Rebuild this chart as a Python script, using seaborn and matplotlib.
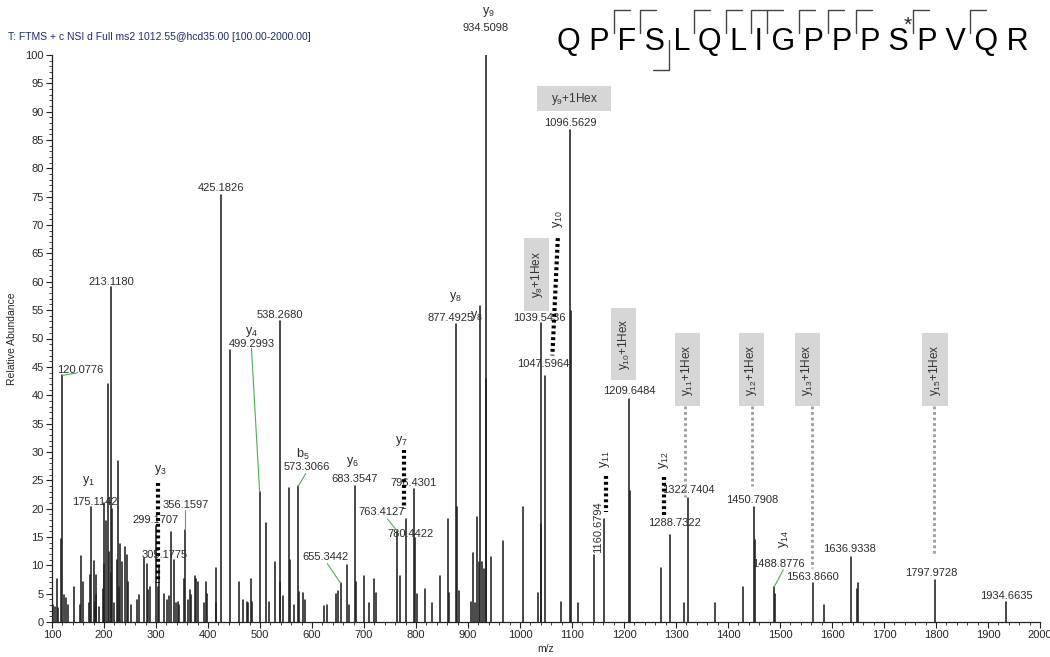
import numpy as np
import pandas as pd
import seaborn as sns
import matplotlib.pyplot as plt
from matplotlib.lines import Line2D
from matplotlib.patches import Rectangle
from matplotlib.ticker import MultipleLocator

# Peak list (m/z, relative abundance)
mz = [102, 105, 109, 112, 117, 120.08, 122.6, 127.7, 130.3, 141.8, 153.4, 155.3, 159,
      170.7, 173.9, 175.11, 180.3, 182.9, 184.2, 185.4, 189.9, 198.2, 199.5, 200.8,
      204.7, 207.9, 209.1, 213.12, 214.12, 216.2, 218.8, 225.2, 227.1, 228.4, 230.3,
      235.4, 241.2, 244.4, 245.7, 252.1, 263.6, 267.5, 276.5, 282.9, 284.1, 288.0,
      299.17, 303.0, 305.18, 315.0, 322.0, 324.6, 328.4, 334.8, 339.3, 342.5, 344.5,
      354.6, 356.16, 361.8, 365.0, 368.2, 374.6, 377.8, 381.0, 392.5, 397.0, 398.3,
      415.0, 416.3, 425.18, 442.2, 460.5, 467.5, 475.9, 477.2, 483.6, 484.8, 499.30,
      511.1, 517.5, 528.4, 538.27, 539.27, 544.5, 556.0, 557.0, 565.0, 573.31, 574.3,
      583.0, 586.1, 622.9, 629.4, 645.7, 650.2, 655.34, 666.5, 671.7, 683.35, 684.4,
      699.6, 708.7, 719.1, 723.7, 763.41, 769.2, 780.44, 796.43, 797.4, 801.7, 816.6,
      830.9, 845.2, 861.5, 863.4, 877.49, 878.5, 883.0, 905.7, 910.2, 914.1, 918.0,
      920.5, 922.5, 927.1, 930.4, 934.51, 935.5, 944.7, 967.4, 1005.1, 1033.7,
      1039.54, 1040.5, 1047.60, 1077.9, 1096.56, 1097.57, 1111.7, 1141.6, 1160.68,
      1209.65, 1210.65, 1271.0, 1288.73, 1315.8, 1322.74, 1374.8, 1429.3, 1450.79,
      1451.79, 1488.88, 1489.88, 1563.87, 1583.7, 1636.93, 1647.9, 1649.2, 1797.97,
      1934.66]
abundance = [3.0, 2.7, 7.5, 2.5, 14.6, 43.5, 4.8, 4.2, 3.0, 6.2, 3.0, 11.7, 7.0,
             3.3, 8.3, 20.2, 10.8, 3.5, 4.8, 8.3, 2.7, 5.9, 10.3, 20.9,
             17.9, 42.0, 12.4, 59.0, 8.6, 19.9, 3.3, 10.9, 28.4, 6.2, 13.7,
             10.6, 13.3, 11.9, 7.1, 3.0, 3.9, 4.8, 11.2, 10.3, 5.6, 6.1,
             17.0, 6.2, 10.0, 5.0, 3.9, 4.5, 15.9, 10.9, 3.3, 3.6, 3.0,
             7.5, 16.2, 3.9, 5.7, 4.8, 8.2, 7.5, 7.0, 3.3, 7.1, 5.0,
             9.6, 3.3, 75.3, 48.0, 7.1, 3.9, 3.6, 3.3, 7.5, 3.5, 22.9,
             17.4, 3.6, 10.6, 53.0, 7.1, 4.5, 23.7, 10.9, 3.0, 24.0, 5.3,
             5.1, 3.9, 2.8, 3.0, 4.9, 5.5, 6.8, 10.1, 3.0, 24.0, 7.0,
             8.2, 3.3, 7.6, 5.2, 16.1, 8.2, 18.2, 23.4, 14.9, 4.9, 5.8,
             3.3, 8.2, 18.2, 5.2, 52.5, 20.3, 5.5, 3.6, 12.1, 3.3, 18.5,
             10.6, 55.8, 10.6, 9.4, 100.0, 42.8, 11.5, 14.3, 20.3, 5.2,
             52.8, 17.3, 43.4, 3.6, 86.8, 54.8, 3.3, 11.8, 18.2,
             39.4, 23.1, 9.5, 15.3, 3.3, 21.8, 3.3, 6.2, 20.3,
             14.4, 6.2, 5.0, 6.8, 3.0, 11.5, 5.9, 6.8, 7.4,
             3.5]

# annotated peak values: (text, m/z, abundance, rotation)
mass_labels = [("120.0776", 154, 44.4, 0), ("213.1180", 214.3, 60.0, 0),
               ("175.1142", 182.3, 21.2, 0), ("299.1707", 299, 18.0, 0),
               ("305.1775", 316, 11.8, 0), ("356.1597", 356.6, 20.6, 0),
               ("425.1826", 425, 76.6, 0), ("499.2993", 483.6, 49.1, 0),
               ("538.2680", 538, 54.1, 0), ("573.3066", 589.3, 27.4, 0),
               ("655.3442", 626, 11.5, 0), ("683.3547", 681.4, 25.2, 0),
               ("796.4301", 795.2, 24.6, 0), ("763.4127", 733.4, 19.4, 0),
               ("780.4422", 788.7, 15.5, 0), ("877.4925", 866.6, 53.7, 0),
               ("934.5098", 934.5, 104.8, 0), ("1096.5629", 1097, 88.0, 0),
               ("1039.5436", 1037.6, 53.7, 0), ("1047.5964", 1044, 45.5, 0),
               ("1209.6484", 1211, 40.7, 0), ("1160.6794", 1150.7, 16.7, 90),
               ("1288.7322", 1297.9, 17.4, 0), ("1322.7404", 1323.5, 23.2, 0),
               ("1450.7908", 1447, 21.6, 0), ("1488.8776", 1496.6, 10.3, 0),
               ("1563.8660", 1562.6, 7.9, 0), ("1636.9338", 1633, 12.9, 0),
               ("1797.9728", 1790, 8.7, 0), ("1934.6635", 1934.6, 4.6, 0)]

ion_labels = [("y$_1$", 170.8, 24.8, 0), ("y$_3$", 309, 26.8, 0), ("y$_4$", 483.6, 51.2, 0),
              ("b$_5$", 583, 29.5, 0), ("y$_6$", 678, 28.3, 0), ("y$_7$", 772.4, 31.9, 0),
              ("y$_8$", 876.4, 57.4, 0), ("y$_8$", 917, 53.9, 0), ("y$_9$", 940, 107.6, 0),
              ("y$_{10}$", 1072.7, 71.0, 90), ("y$_{11}$", 1164.4, 28.8, 90),
              ("y$_{12}$", 1277.3, 28.6, 90), ("y$_{14}$", 1507.5, 14.7, 90)]

hex_labels = [("y$_9$+1Hex", 1104, 92.3, 0), ("y$_8$+1Hex", 1032, 61.3, 90),
              ("y$_{10}$+1Hex", 1199.5, 49.0, 90), ("y$_{11}$+1Hex", 1322, 44.5, 90),
              ("y$_{12}$+1Hex", 1445, 44.5, 90), ("y$_{13}$+1Hex", 1552.6, 44.5, 90),
              ("y$_{15}$+1Hex", 1798, 44.5, 90)]

hex_leaders = [(1317, 38.1, 22.1), (1445.3, 38.1, 23.9), (1561.3, 38.1, 9.5), (1796.6, 38.1, 11.6)]
ion_leaders = [(304, 24.6, 304, 6.8), (777.6, 30.3, 777.6, 20.0), (1072.7, 67.7, 1062.3, 47.0),
               (1165.6, 25.8, 1165.6, 19.4), (1277.3, 25.6, 1277.3, 18.6)]
green_leaders = [(120.08, 43.5, 147, 43.9), (356.16, 19.75, 356.16, 16.2), (483.6, 48.3, 499.3, 22.9),
                 (588, 26.2, 573.3, 23.9), (629.4, 10.3, 655.34, 6.8), (745, 18.2, 763.41, 16.1),
                 (1506.2, 9.2, 1488.88, 6.2)]

sequence = "QPFSLQLIGPPPSPVQR"
y_breaks = [1, 2, 4, 5, 6, 7, 8, 9, 10, 12, 14]
b_breaks = [3]
phospho_site = 12

sns.set_style("ticks")
plt.rcParams['font.family'] = ['Liberation Sans', 'DejaVu Sans']
plt.rcParams['mathtext.fontset'] = 'custom'
plt.rcParams['mathtext.rm'] = 'Liberation Sans'
plt.rcParams['mathtext.it'] = 'Liberation Sans'
plt.rcParams['mathtext.default'] = 'regular'

# each peak is a 2-point unit: baseline -> top
n = len(mz)
spec = pd.DataFrame({
    'mz': np.repeat(mz, 2),
    'abundance': np.column_stack([np.zeros(n), abundance]).ravel(),
    'peak': np.repeat(np.arange(n), 2),
})

W, H = 1050, 657
fig = plt.figure(figsize=(W / 100, H / 100), dpi=100)
ax = fig.add_axes([52 / W, 1 - 622 / H, 988 / W, 567 / H])
sns.lineplot(data=spec, x='mz', y='abundance', units='peak', estimator=None,
             color='#1f1f1f', lw=1.15, ax=ax, legend=False)

ax.set_xlim(100, 2000)
ax.set_ylim(0, 100)
ax.xaxis.set_major_locator(MultipleLocator(100))
ax.xaxis.set_minor_locator(MultipleLocator(20))
ax.yaxis.set_major_locator(MultipleLocator(5))
ax.yaxis.set_minor_locator(MultipleLocator(1))
ax.tick_params(which='major', length=4, width=0.8, labelsize=7.5, pad=2, color='#222')
ax.tick_params(which='minor', length=2.5, width=0.6, color='#222')
for lab in ax.get_xticklabels() + ax.get_yticklabels():
    lab.set_family(['Liberation Sans Narrow', 'Liberation Sans'])
    lab.set_fontsize(8)
sns.despine(ax=ax)
for s in ['left', 'bottom']:
    ax.spines[s].set_linewidth(0.9)
    ax.spines[s].set_color('#222')
ax.set_xlabel('m/z', fontsize=7.5, labelpad=3)
ax.set_ylabel('Relative Abundance', fontsize=7.5, labelpad=6)

txt = '#2b2b2b'
for label, x, y, rot in mass_labels:
    ax.text(x, y, label, fontsize=8, color=txt, ha='center', va='center', rotation=rot, clip_on=False)
for label, x, y, rot in ion_labels:
    ax.text(x, y, label, fontsize=9, color=txt, ha='center', va='center', rotation=rot, clip_on=False)

for label, x, y, rot in hex_labels:
    bw, bh = (142, 4.4) if rot == 0 else (49, 12.8)
    ax.add_patch(Rectangle((x - bw / 2, y - bh / 2), bw, bh, facecolor='#d6d6d6',
                           edgecolor='none', zorder=3))
    ax.text(x, y, label, fontsize=8.5, color='#333', ha='center', va='center',
            rotation=rot, zorder=4)

for x, y0, y1 in hex_leaders:
    ax.plot([x, x], [y0, y1], color='#9a9a9a', lw=2, ls=(0, (1, 1)), zorder=3)
for x0, y0, x1, y1 in ion_leaders:
    ax.plot([x0, x1], [y0, y1], color='black', lw=3, ls=(0, (0.7, 0.7)), zorder=3)
for x0, y0, x1, y1 in green_leaders:
    ax.plot([x0, x1], [y0, y1], color='#4caf50', lw=0.8, zorder=3)

fig.text(8 / W, 1 - 37 / H, "T: FTMS + c NSI d Full ms2 1012.55@hcd35.00 [100.00-2000.00]",
         fontsize=7.5, color='#1c2a78', va='center', ha='left')

# peptide sequence with fragment brackets
spaced = ' '.join(sequence)
seq_txt = fig.text(557 / W, 1 - 50 / H, spaced, fontsize=22, color='black',
                   ha='left', va='baseline')
fig.canvas.draw()
renderer = fig.canvas.get_renderer()
fp = seq_txt.get_fontproperties()
x_start = seq_txt.get_window_extent(renderer).x0


def text_w(s):
    return renderer.get_text_width_height_descent(s, fp, ismath=False)[0]


def gap_x(k):
    right = x_start + text_w(spaced[:2 * k + 1])
    left = x_start + text_w(spaced[:2 * k + 3]) - text_w(sequence[k + 1])
    return (right + left) / 2


def fig_line(xs, ys):
    fig.add_artist(Line2D([v / W for v in xs], [1 - v / H for v in ys],
                          color='#444', lw=1.0, transform=fig.transFigure))


for k in y_breaks:
    gx = gap_x(k)
    fig_line([gx, gx, gx + 16], [33, 10, 10])
for k in b_breaks:
    gx = gap_x(k)
    fig_line([gx, gx, gx - 16], [40, 70, 70])

sx = x_start + text_w(spaced[:2 * phospho_site + 1])
fig.text((sx - 1) / W, 1 - 25 / H, '*', fontsize=15, ha='center', va='center')

fig.savefig('out.png', dpi=100)
